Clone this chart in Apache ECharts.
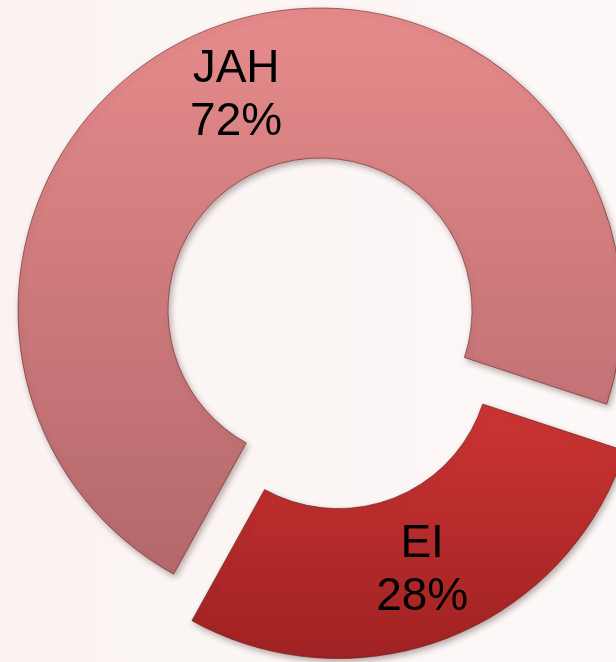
<!DOCTYPE html>
<html>
<head>
<meta charset="utf-8">
<script src="https://cdn.jsdelivr.net/npm/echarts@6/dist/echarts.min.js"></script>
<style>
    html, body { margin: 0; padding: 0; background: #fbf5f4; }
    #echart_donut { width: 616px; height: 662px; }
</style>
</head>
<body>
<div id="echart_donut"></div>
<script>
var categories = ['JAH', 'EI'];
var shareValues = [72, 28];
var explodedSlice = [false, true];

var sliceColors = [
    ['#e68b8b', '#b4686c'],
    ['#cc3434', '#a02222']
];

function init_donut() {
    var myChart = echarts.init(document.getElementById('echart_donut'));

    var seriesData = [];
    for (var i = 0; i < categories.length; i++) {
        var grad = new echarts.graphic.LinearGradient(0, 0, 0, 1, [
            { offset: 0, color: sliceColors[i][0] },
            { offset: 1, color: sliceColors[i][1] }
        ]);
        seriesData.push({
            name: categories[i],
            value: shareValues[i],
            selected: explodedSlice[i],
            itemStyle: {
                color: grad,
                borderColor: 'rgba(90,30,30,0.55)',
                borderWidth: 1,
                shadowBlur: 6,
                shadowOffsetX: 2,
                shadowOffsetY: 3,
                shadowColor: 'rgba(60,20,20,0.35)'
            },
            select: {
                itemStyle: { color: grad }
            }
        });
    }

    var option = {
        backgroundColor: new echarts.graphic.LinearGradient(0, 0, 1, 0, [
            { offset: 0, color: '#faf3f2' },
            { offset: 1, color: '#fdf9f8' }
        ]),
        animation: false,
        series: [{
            type: 'pie',
            center: [320, 310],
            radius: [152, 302],
            startAngle: 241,
            clockwise: true,
            selectedMode: 'single',
            selectedOffset: 50,
            avoidLabelOverlap: false,
            label: {
                show: true,
                position: 'inside',
                formatter: '{b}\n{c}%',
                color: '#000',
                fontFamily: 'Liberation Sans, Arial, sans-serif',
                fontSize: 46,
                lineHeight: 53
            },
            labelLine: { show: false },
            emphasis: { disabled: true },
            data: seriesData
        }]
    };

    myChart.setOption(option);
}

init_donut();
</script>
</body>
</html>
